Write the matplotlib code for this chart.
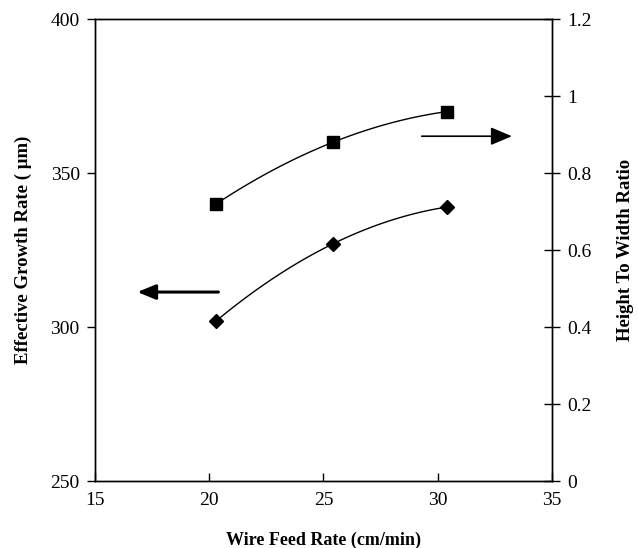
import numpy as np
import matplotlib
matplotlib.use("Agg")
import matplotlib.pyplot as plt

plt.rcParams['font.family'] = ['Liberation Serif', 'DejaVu Serif']

# data
wire_feed = [20.3, 25.4, 30.4]
growth_rate = [302, 327, 339]        # left axis, diamonds
height_width = [0.72, 0.88, 0.96]    # right axis, squares

xticks = [15, 20, 25, 30, 35]
left_ticks = [250, 300, 350, 400]
right_ticks = [0, 0.2, 0.4, 0.6, 0.8, 1, 1.2]

fig = plt.figure(figsize=(6.38, 5.48), dpi=100)
ax = fig.add_axes([0.149, 0.122, 0.716, 0.843])
ax2 = ax.twinx()

# quadratic trendlines through the points (as in the original spreadsheet chart)
xs = np.linspace(wire_feed[0], wire_feed[-1], 100)
c1 = np.polyfit(wire_feed, growth_rate, 2)
c2 = np.polyfit(wire_feed, height_width, 2)
ax.plot(xs, np.polyval(c1, xs), color='black', lw=1)
ax.plot(wire_feed, growth_rate, linestyle='none', marker='D', ms=7, color='black')
ax2.plot(xs, np.polyval(c2, xs), color='black', lw=1)
ax2.plot(wire_feed, height_width, linestyle='none', marker='s', ms=9, color='black')

ax.set_xlim(15, 35)
ax.set_ylim(250, 400)
ax2.set_ylim(0, 1.2)
ax.set_xticks(xticks)
ax.set_yticks(left_ticks)
ax2.set_yticks(right_ticks)
ax2.set_yticklabels(['0', '0.2', '0.4', '0.6', '0.8', '1', '1.2'])

ax.tick_params(axis='x', direction='in', length=6, width=1, labelsize=14, pad=8)
ax.tick_params(axis='y', direction='out', length=6, width=1, labelsize=14, pad=5)
ax2.tick_params(axis='y', direction='inout', length=12, width=1, labelsize=14, pad=5)

for a in (ax, ax2):
    for s in a.spines.values():
        s.set_linewidth(1)

ax.set_xlabel('Wire Feed Rate (cm/min)', fontsize=13, fontweight='bold', labelpad=16)
ax.set_ylabel('Effective Growth Rate ( \u03bcm)', fontsize=13.5, fontweight='bold', labelpad=13)
ax2.set_ylabel('Height To Width Ratio', fontsize=13.5, fontweight='bold', labelpad=18)

# arrows pointing to the axis each series belongs to
ax.annotate('', xy=(16.85, 311.4), xytext=(20.4, 311.4),
            arrowprops=dict(arrowstyle='-|>,head_length=1.1,head_width=0.45',
                            color='black', lw=2.2, shrinkA=0, shrinkB=0))
ax2.annotate('', xy=(33.25, 0.896), xytext=(29.3, 0.896),
             arrowprops=dict(arrowstyle='-|>,head_length=1.3,head_width=0.55',
                             color='black', lw=1.2, shrinkA=0, shrinkB=0))

fig.savefig('out.png', dpi=100)
